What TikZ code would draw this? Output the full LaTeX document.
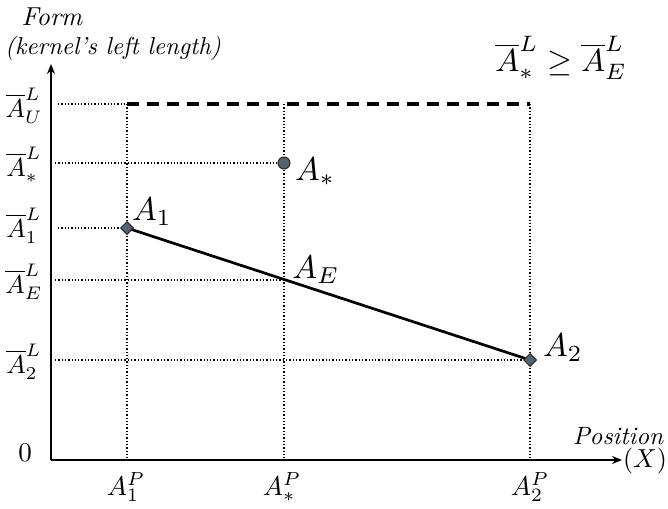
\documentclass[tikz,border=0pt]{standalone}
\usepackage{amssymb}
\usetikzlibrary{arrows.meta,shapes.geometric}
\newcommand{\sbx}[2]{\scalebox{#1}{#2}}
\definecolor{markfill}{RGB}{84,98,114}
\begin{document}
\begin{tikzpicture}[x=1pt,y=-1pt,
  axis/.style={line width=2.7pt,-{Stealth[length=10pt,width=8pt]}},
  guide/.style={line width=1.3pt,dotted},
  bound/.style={line width=3pt,dash pattern=on 12pt off 8pt},
  seg/.style={line width=2.7pt},
  dmark/.style={diamond,draw=black!85,fill=markfill,line width=1pt,inner sep=0pt,minimum size=13pt},
  cmark/.style={circle,draw=black!85,fill=markfill,line width=1pt,inner sep=0pt,minimum size=12pt}]
\useasboundingbox (0,0) rectangle (668,508);
% axes
\coordinate (O) at (51,460);
\coordinate (yend) at (51,64);
\coordinate (xend) at (622,460);
\draw[axis] (O) -- (yend);
\draw[axis] (O) -- (xend);
% points
\coordinate (p1) at (127,228);
\coordinate (ps) at (284,163);
\coordinate (p2) at (530,360);
\coordinate (pe) at (284,280);
\coordinate (u1) at (127,104);
\coordinate (us) at (284,104);
\coordinate (u2) at (530,104);
\coordinate (x1) at (127,460);
\coordinate (xs) at (284,460);
\coordinate (x2) at (530,460);
\coordinate (yu) at (58,104);
\coordinate (ys) at (55,163);
\coordinate (y1) at (58,228);
\coordinate (ye) at (55,280);
\coordinate (y2) at (55,360);
% guides
\draw[guide] (u1) -- (x1);
\draw[guide] (us) -- (xs);
\draw[guide] (u2) -- (x2);
\draw[guide] (yu) -- (u1);
\draw[guide] (ys) -- (ps);
\draw[guide] (y1) -- (p1);
\draw[guide] (ye) -- (pe);
\draw[guide] (y2) -- (p2);
\draw[bound] (u1) -- (u2);
% segment
\draw[seg] (p1) -- (p2);
\node[dmark] (m1) at (p1) {};
\node[dmark] (m2) at (p2) {};
\node[cmark] (ms) at (ps) {};
% point labels
\node (l1) at (152,212) {\sbx{3.3}{$A_1$}};
\node (ls) at (315,172) {\sbx{3.3}{$A_*$}};
\node (le) at (316,270) {\sbx{3.3}{$A_E$}};
\node (l2) at (563,348) {\sbx{3.3}{$A_2$}};
% y labels
\node (tu) at (24,106) {\sbx{2.6}{$\overline{A}^L_U$}};
\node (ts) at (24,165) {\sbx{2.6}{$\overline{A}^L_*$}};
\node (t1) at (24,226) {\sbx{2.6}{$\overline{A}^L_1$}};
\node (te) at (24,282) {\sbx{2.6}{$\overline{A}^L_E$}};
\node (t2) at (24,362) {\sbx{2.6}{$\overline{A}^L_2$}};
\node (t0) at (25,453) {\sbx{2.7}{$0$}};
% x labels
\node (b1) at (126,487) {\sbx{2.7}{$A^P_1$}};
\node (bs) at (282,487) {\sbx{2.7}{$A^P_*$}};
\node (b2) at (530,487) {\sbx{2.7}{$A^P_2$}};
% titles
\node (form) at (52,17) {\sbx{2.6}{\itshape Form}};
\node (kern) at (113,48) {\sbx{2.45}{\itshape (kernel's left length)}};
\node (pos) at (618,436) {\sbx{2.5}{\itshape Position}};
\node (xx) at (645,461) {\sbx{2.6}{$(X)$}};
\node (ineq) at (561,58) {\sbx{3.2}{$\overline{A}^L_* \geq \overline{A}^L_E$}};
\end{tikzpicture}
\end{document}
